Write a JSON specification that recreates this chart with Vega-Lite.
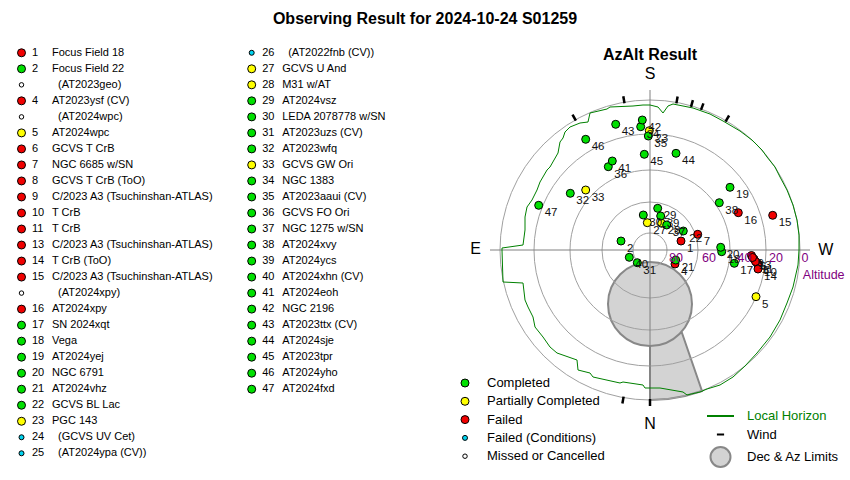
{
  "$schema": "https://vega.github.io/schema/vega-lite/v6.json",
  "padding": {"left": 0, "top": 11, "right": 0, "bottom": 0},
  "bounds": "flush",
  "spacing": 0,
  "title": {"text": "Observing Result for 2024-10-24 S01259", "fontSize": 16, "fontWeight": "bold", "offset": 3, "anchor": "middle", "color": "black", "font": "Liberation Sans"},
  "config": {"view": {"stroke": null}, "font": "Liberation Sans"},
  "datasets": {
    "list": [
      {"col": 0, "row": 0, "num": "1", "name": "Focus Field 18", "status": "Failed"},
      {"col": 0, "row": 1, "num": "2", "name": "Focus Field 22", "status": "Completed"},
      {"col": 0, "row": 2, "num": "", "name": "(AT2023geo)", "status": "Missed or Cancelled"},
      {"col": 0, "row": 3, "num": "4", "name": "AT2023ysf (CV)", "status": "Failed"},
      {"col": 0, "row": 4, "num": "", "name": "(AT2024wpc)", "status": "Missed or Cancelled"},
      {"col": 0, "row": 5, "num": "5", "name": "AT2024wpc", "status": "Partially Completed"},
      {"col": 0, "row": 6, "num": "6", "name": "GCVS T CrB", "status": "Failed"},
      {"col": 0, "row": 7, "num": "7", "name": "NGC 6685 w/SN", "status": "Failed"},
      {"col": 0, "row": 8, "num": "8", "name": "GCVS T CrB (ToO)", "status": "Failed"},
      {"col": 0, "row": 9, "num": "9", "name": "C/2023 A3 (Tsuchinshan-ATLAS)", "status": "Failed"},
      {"col": 0, "row": 10, "num": "10", "name": "T CrB", "status": "Failed"},
      {"col": 0, "row": 11, "num": "11", "name": "T CrB", "status": "Failed"},
      {"col": 0, "row": 12, "num": "13", "name": "C/2023 A3 (Tsuchinshan-ATLAS)", "status": "Failed"},
      {"col": 0, "row": 13, "num": "14", "name": "T CrB (ToO)", "status": "Failed"},
      {"col": 0, "row": 14, "num": "15", "name": "C/2023 A3 (Tsuchinshan-ATLAS)", "status": "Failed"},
      {"col": 0, "row": 15, "num": "", "name": "(AT2024xpy)", "status": "Missed or Cancelled"},
      {"col": 0, "row": 16, "num": "16", "name": "AT2024xpy", "status": "Failed"},
      {"col": 0, "row": 17, "num": "17", "name": "SN 2024xqt", "status": "Completed"},
      {"col": 0, "row": 18, "num": "18", "name": "Vega", "status": "Completed"},
      {"col": 0, "row": 19, "num": "19", "name": "AT2024yej", "status": "Completed"},
      {"col": 0, "row": 20, "num": "20", "name": "NGC 6791", "status": "Completed"},
      {"col": 0, "row": 21, "num": "21", "name": "AT2024vhz", "status": "Completed"},
      {"col": 0, "row": 22, "num": "22", "name": "GCVS BL Lac", "status": "Completed"},
      {"col": 0, "row": 23, "num": "23", "name": "PGC 143", "status": "Partially Completed"},
      {"col": 0, "row": 24, "num": "24", "name": "(GCVS UV Cet)", "status": "Failed (Conditions)"},
      {"col": 0, "row": 25, "num": "25", "name": "(AT2024ypa (CV))", "status": "Failed (Conditions)"},
      {"col": 1, "row": 0, "num": "26", "name": "(AT2022fnb (CV))", "status": "Failed (Conditions)"},
      {"col": 1, "row": 1, "num": "27", "name": "GCVS U And", "status": "Partially Completed"},
      {"col": 1, "row": 2, "num": "28", "name": "M31 w/AT", "status": "Partially Completed"},
      {"col": 1, "row": 3, "num": "29", "name": "AT2024vsz", "status": "Completed"},
      {"col": 1, "row": 4, "num": "30", "name": "LEDA 2078778 w/SN", "status": "Completed"},
      {"col": 1, "row": 5, "num": "31", "name": "AT2023uzs (CV)", "status": "Completed"},
      {"col": 1, "row": 6, "num": "32", "name": "AT2023wfq", "status": "Completed"},
      {"col": 1, "row": 7, "num": "33", "name": "GCVS GW Ori", "status": "Partially Completed"},
      {"col": 1, "row": 8, "num": "34", "name": "NGC 1383", "status": "Completed"},
      {"col": 1, "row": 9, "num": "35", "name": "AT2023aaui (CV)", "status": "Completed"},
      {"col": 1, "row": 10, "num": "36", "name": "GCVS FO Ori", "status": "Completed"},
      {"col": 1, "row": 11, "num": "37", "name": "NGC 1275 w/SN", "status": "Completed"},
      {"col": 1, "row": 12, "num": "38", "name": "AT2024xvy", "status": "Completed"},
      {"col": 1, "row": 13, "num": "39", "name": "AT2024ycs", "status": "Completed"},
      {"col": 1, "row": 14, "num": "40", "name": "AT2024xhn (CV)", "status": "Completed"},
      {"col": 1, "row": 15, "num": "41", "name": "AT2024eoh", "status": "Completed"},
      {"col": 1, "row": 16, "num": "42", "name": "NGC 2196", "status": "Completed"},
      {"col": 1, "row": 17, "num": "43", "name": "AT2023ttx (CV)", "status": "Completed"},
      {"col": 1, "row": 18, "num": "44", "name": "AT2024sje", "status": "Completed"},
      {"col": 1, "row": 19, "num": "45", "name": "AT2023tpr", "status": "Completed"},
      {"col": 1, "row": 20, "num": "46", "name": "AT2024yho", "status": "Completed"},
      {"col": 1, "row": 21, "num": "47", "name": "AT2024fxd", "status": "Completed"}
    ],
    "points": [
      {"id": "1", "x": 31, "y": 9, "status": "Failed"},
      {"id": "2", "x": -29, "y": 9, "status": "Completed"},
      {"id": "4", "x": 25, "y": -14, "status": "Failed"},
      {"id": "5", "x": 106, "y": -46.7, "status": "Partially Completed"},
      {"id": "6", "x": 104, "y": -9, "status": "Failed"},
      {"id": "7", "x": 47.7, "y": 15.7, "status": "Failed"},
      {"id": "8", "x": 107, "y": -13, "status": "Failed"},
      {"id": "9", "x": 101.5, "y": -5.5, "status": "Failed"},
      {"id": "10", "x": 108, "y": -14.5, "status": "Failed"},
      {"id": "11", "x": 105.5, "y": -11.5, "status": "Failed"},
      {"id": "13", "x": 102.5, "y": -7.5, "status": "Failed"},
      {"id": "14", "x": 108, "y": -19, "status": "Failed"},
      {"id": "15", "x": 122.7, "y": 34.7, "status": "Failed"},
      {"id": "16", "x": 88.3, "y": 37.3, "status": "Failed"},
      {"id": "17", "x": 84.3, "y": -13.3, "status": "Completed"},
      {"id": "18", "x": 71.7, "y": -1.7, "status": "Completed"},
      {"id": "19", "x": 80, "y": 62.7, "status": "Completed"},
      {"id": "20", "x": 70.7, "y": 2.7, "status": "Completed"},
      {"id": "21", "x": 25.7, "y": -10, "status": "Completed"},
      {"id": "22", "x": 33.3, "y": 19, "status": "Completed"},
      {"id": "23", "x": -0.7, "y": 119.3, "status": "Partially Completed"},
      {"id": "27", "x": -2.7, "y": 27.3, "status": "Partially Completed"},
      {"id": "28", "x": 11.7, "y": 26.7, "status": "Partially Completed"},
      {"id": "29", "x": 7.7, "y": 41.7, "status": "Completed"},
      {"id": "30", "x": -6.7, "y": 35, "status": "Completed"},
      {"id": "31", "x": -12.7, "y": -12.7, "status": "Completed"},
      {"id": "32", "x": -79.7, "y": 56.7, "status": "Completed"},
      {"id": "33", "x": -64.3, "y": 60, "status": "Partially Completed"},
      {"id": "34", "x": -9.3, "y": 123.3, "status": "Completed"},
      {"id": "35", "x": -1.7, "y": 114, "status": "Completed"},
      {"id": "36", "x": -41.7, "y": 83.3, "status": "Completed"},
      {"id": "37", "x": 16.7, "y": 25, "status": "Completed"},
      {"id": "38", "x": 69.3, "y": 47.3, "status": "Completed"},
      {"id": "39", "x": 10.7, "y": 34, "status": "Completed"},
      {"id": "40", "x": -20.7, "y": -7.3, "status": "Completed"},
      {"id": "41", "x": -37.7, "y": 89, "status": "Completed"},
      {"id": "42", "x": -7.7, "y": 130, "status": "Completed"},
      {"id": "43", "x": -34.3, "y": 125.7, "status": "Completed"},
      {"id": "44", "x": 26, "y": 96.7, "status": "Completed"},
      {"id": "45", "x": -5.7, "y": 95.7, "status": "Completed"},
      {"id": "46", "x": -64.3, "y": 110.7, "status": "Completed"},
      {"id": "47", "x": -111.3, "y": 44.7, "status": "Completed"}
    ],
    "horizon": [
      {"o": 0, "x": -148, "y": 0}, {"o": 1, "x": -148, "y": 2}, {"o": 2, "x": -127, "y": 5},
      {"o": 3, "x": -125, "y": 20}, {"o": 4, "x": -125, "y": 33}, {"o": 5, "x": -123, "y": 43},
      {"o": 6, "x": -118, "y": 50}, {"o": 7, "x": -113, "y": 60}, {"o": 8, "x": -110, "y": 68},
      {"o": 9, "x": -103, "y": 80}, {"o": 10, "x": -100, "y": 83}, {"o": 11, "x": -92, "y": 97},
      {"o": 12, "x": -90, "y": 108}, {"o": 13, "x": -87, "y": 112}, {"o": 14, "x": -85, "y": 118},
      {"o": 15, "x": -80, "y": 123}, {"o": 16, "x": -70, "y": 127}, {"o": 17, "x": -62, "y": 128},
      {"o": 18, "x": -60, "y": 137}, {"o": 19, "x": -43, "y": 141}, {"o": 20, "x": -40, "y": 143},
      {"o": 21, "x": -17, "y": 144}, {"o": 22, "x": -7, "y": 145}, {"o": 23, "x": 0, "y": 145},
      {"o": 24, "x": 8, "y": 143}, {"o": 25, "x": 13, "y": 137}, {"o": 26, "x": 18, "y": 144},
      {"o": 27, "x": 23, "y": 146}, {"o": 28, "x": 43, "y": 142}, {"o": 29, "x": 60, "y": 136},
      {"o": 30, "x": 73, "y": 129}, {"o": 31, "x": 90, "y": 119}, {"o": 32, "x": 102, "y": 110},
      {"o": 33, "x": 112, "y": 100}, {"o": 34, "x": 117, "y": 93}, {"o": 35, "x": 125, "y": 83},
      {"o": 36, "x": 130, "y": 73}, {"o": 37, "x": 137, "y": 60}, {"o": 38, "x": 143, "y": 45},
      {"o": 39, "x": 147, "y": 30}, {"o": 40, "x": 149, "y": 15}, {"o": 41, "x": 149, "y": 0},
      {"o": 42, "x": 148, "y": -15}, {"o": 43, "x": 143, "y": -37}, {"o": 44, "x": 137, "y": -53},
      {"o": 45, "x": 130, "y": -70}, {"o": 46, "x": 120, "y": -87}, {"o": 47, "x": 107, "y": -103},
      {"o": 48, "x": 95, "y": -116}, {"o": 49, "x": 83, "y": -127}, {"o": 50, "x": 70, "y": -135},
      {"o": 51, "x": 57, "y": -139}, {"o": 52, "x": 50, "y": -142}, {"o": 53, "x": 37, "y": -145},
      {"o": 54, "x": 33, "y": -142}, {"o": 55, "x": 10, "y": -138}, {"o": 56, "x": 0, "y": -138},
      {"o": 57, "x": -5, "y": -138}, {"o": 58, "x": -7, "y": -135}, {"o": 59, "x": -27, "y": -132},
      {"o": 60, "x": -30, "y": -133}, {"o": 61, "x": -57, "y": -127}, {"o": 62, "x": -60, "y": -123},
      {"o": 63, "x": -72, "y": -120}, {"o": 64, "x": -73, "y": -110}, {"o": 65, "x": -93, "y": -103},
      {"o": 66, "x": -100, "y": -97}, {"o": 67, "x": -107, "y": -87}, {"o": 68, "x": -115, "y": -77},
      {"o": 69, "x": -117, "y": -67}, {"o": 70, "x": -122, "y": -57}, {"o": 71, "x": -125, "y": -50},
      {"o": 72, "x": -127, "y": -33}, {"o": 73, "x": -147, "y": -32}, {"o": 74, "x": -148, "y": 0}
    ],
    "rings": [
      {"x": 0, "y": 0, "alt": 0}, {"x": 0, "y": 0, "alt": 20}, {"x": 0, "y": 0, "alt": 40},
      {"x": 0, "y": 0, "alt": 60}, {"x": 0, "y": 0, "alt": 80}
    ],
    "crosshair": [
      {"x": -160, "y": 0, "x2": 160, "y2": 0},
      {"x": 0, "y": 160, "x2": 0, "y2": -155}
    ],
    "wind": [
      {"x": -74.1, "y": 129.3, "x2": -77.5, "y2": 135.4},
      {"x": -25.5, "y": 146.8, "x2": -26.7, "y2": 153.7},
      {"x": 26.4, "y": 146.6, "x2": 27.6, "y2": 153.5},
      {"x": 41, "y": 143.2, "x2": 42.9, "y2": 149.9},
      {"x": 51, "y": 140.1, "x2": 53.4, "y2": 146.6},
      {"x": 75.5, "y": 128.4, "x2": 79.1, "y2": 134.5},
      {"x": -26.4, "y": -146.6, "x2": -27.6, "y2": -153.5},
      {"x": 0, "y": -149, "x2": 0, "y2": -156}
    ],
    "wedge": [
      {"x": 32, "y": -83}, {"x": 52, "y": -141}, {"x": 35, "y": -146}, {"x": 18, "y": -149}, {"x": 0, "y": -150}
    ],
    "limits": [{"x": 0, "y": -54}],
    "ringLabels": [
      {"x": 26, "y": -7.5, "t": "80"}, {"x": 59, "y": -7.5, "t": "60"}, {"x": 94.5, "y": -7.5, "t": "40"},
      {"x": 126, "y": -7.5, "t": "20"}, {"x": 155, "y": -7.5, "t": "0"}, {"x": 173.7, "y": -24.5, "t": "Altitude"}
    ],
    "cardinals": [
      {"x": 0, "y": 176, "t": "S"}, {"x": 0, "y": -174.3, "t": "N"},
      {"x": -174.3, "y": 0.7, "t": "E"}, {"x": 175.7, "y": 0, "t": "W"}
    ]
  },
  "hconcat": [
    {
      "width": 460,
      "height": 450,
      "data": {"name": "list"},
      "encoding": {
        "x": {"field": "col", "type": "quantitative", "scale": {"domain": [-0.0934, 1.9049]}, "axis": null},
        "y": {"field": "row", "type": "quantitative", "scale": {"domain": [-1.423, 26.667], "reverse": true}, "axis": null}
      },
      "layer": [
        {
          "mark": {"type": "point", "filled": true, "stroke": "black", "strokeWidth": 1, "opacity": 1},
          "encoding": {
            "fill": {
              "field": "status", "type": "nominal",
              "scale": {"domain": ["Completed", "Partially Completed", "Failed", "Failed (Conditions)", "Missed or Cancelled"], "range": ["#00e000", "#ffff00", "#f00000", "#00d4f0", "#ffffff"]},
              "legend": {"orient": "none", "legendX": 458.5, "legendY": 346.5, "title": null, "padding": 0, "labelFontSize": 13, "labelOffset": 15.5, "rowPadding": 4.3, "symbolStrokeColor": "black", "symbolStrokeWidth": 1, "symbolSize": {"expr": "datum.value == 'Failed (Conditions)' ? 25 : datum.value == 'Missed or Cancelled' ? 20 : 64"}, "labelColor": "black", "labelFont": "Liberation Sans"}
            },
            "size": {"condition": [{"test": "datum.status == 'Failed (Conditions)'", "value": 25}, {"test": "datum.status == 'Missed or Cancelled'", "value": 20}], "value": 64}
          }
        },
        {
          "mark": {"type": "text", "align": "left", "baseline": "middle", "dx": 10.5, "fontSize": 11, "color": "black"},
          "encoding": {"text": {"field": "num"}}
        },
        {
          "transform": [{"filter": "datum.status != 'Missed or Cancelled' && datum.status != 'Failed (Conditions)'"}],
          "mark": {"type": "text", "align": "left", "baseline": "middle", "dx": 30.5, "fontSize": 11, "color": "black"},
          "encoding": {"text": {"field": "name"}}
        },
        {
          "transform": [{"filter": "datum.status == 'Missed or Cancelled' || datum.status == 'Failed (Conditions)'"}],
          "mark": {"type": "text", "align": "left", "baseline": "middle", "dx": 36.5, "fontSize": 11, "color": "black"},
          "encoding": {"text": {"field": "name"}}
        }
      ]
    },
    {
      "width": 390,
      "height": 450,
      "title": {"text": "AzAlt Result", "fontSize": 16, "fontWeight": "bold", "offset": -33, "dx": -5, "anchor": "middle", "color": "black"},
      "encoding": {
        "x": {"field": "x", "type": "quantitative", "scale": {"domain": [-190, 200]}, "axis": null},
        "y": {"field": "y", "type": "quantitative", "scale": {"domain": [-230, 220]}, "axis": null}
      },
      "layer": [
        {
          "data": {"name": "wedge"},
          "mark": {"type": "area", "orient": "horizontal", "fill": "#d3d3d3", "stroke": "#888888", "strokeWidth": 2},
          "encoding": {"x2": {"datum": 0}}
        },
        {
          "data": {"name": "limits"},
          "mark": {"type": "point", "shape": "circle", "filled": true, "fill": "#d3d3d3", "size": 7056, "strokeWidth": 2, "opacity": 1},
          "encoding": {
            "stroke": {
              "datum": "Dec & Az Limits", "type": "nominal",
              "scale": {"domain": ["Local Horizon", "Wind", "Dec & Az Limits"], "range": ["#008000", "#000000", "#888888"]},
              "legend": {"orient": "none", "legendX": 710.5, "legendY": 376, "title": null, "padding": 0, "labelFontSize": 13, "labelOffset": 16.5, "rowPadding": 1.5, "symbolSize": 324, "symbolStrokeWidth": 2, "symbolFillColor": "#d3d3d3",
                "symbolType": {"expr": "datum.value == 'Local Horizon' ? 'M-1.5,0H1.5' : datum.value == 'Wind' ? 'M-0.4,0H0.4' : 'M1.111,0A1.111,1.111,0,1,1,-1.111,0A1.111,1.111,0,1,1,1.111,0Z'"},
                "labelColor": {"expr": "datum.value == 'Local Horizon' ? '#008000' : 'black'"}, "labelFont": "Liberation Sans"}
            }
          }
        },
        {
          "data": {"name": "rings"},
          "mark": {"type": "point", "shape": "circle", "filled": false, "stroke": "#a0a0a0", "strokeWidth": 1, "opacity": 1},
          "encoding": {
            "size": {"field": "alt", "type": "quantitative", "scale": {"domain": [0, 20, 40, 60, 80], "range": [90000, 53824, 25600, 9216, 1156]}, "legend": null}
          }
        },
        {
          "data": {"name": "crosshair"},
          "mark": {"type": "rule", "stroke": "#808080", "strokeWidth": 1},
          "encoding": {"x2": {"field": "x2"}, "y2": {"field": "y2"}}
        },
        {
          "data": {"name": "horizon"},
          "mark": {"type": "line", "strokeWidth": 1},
          "encoding": {
            "order": {"field": "o", "type": "quantitative"},
            "stroke": {"datum": "Local Horizon", "type": "nominal"}
          }
        },
        {
          "data": {"name": "wind"},
          "mark": {"type": "rule", "strokeWidth": 2.5},
          "encoding": {
            "x2": {"field": "x2"}, "y2": {"field": "y2"},
            "stroke": {"datum": "Wind", "type": "nominal"}
          }
        },
        {
          "data": {"name": "points"},
          "mark": {"type": "point", "shape": "circle", "filled": true, "stroke": "black", "strokeWidth": 1, "size": 64, "opacity": 1},
          "encoding": {
            "fill": {
              "field": "status", "type": "nominal",
              "scale": {"domain": ["Completed", "Partially Completed", "Failed", "Failed (Conditions)", "Missed or Cancelled"], "range": ["#00e000", "#ffff00", "#f00000", "#00d4f0", "#ffffff"]}
            }
          }
        },
        {
          "data": {"name": "points"},
          "mark": {"type": "text", "align": "left", "baseline": "middle", "dx": 6, "dy": 8, "fontSize": 11.5, "color": "#111111"},
          "encoding": {"text": {"field": "id"}}
        },
        {
          "data": {"name": "ringLabels"},
          "mark": {"type": "text", "align": "center", "baseline": "middle", "fontSize": 12.5, "color": "#800080"},
          "encoding": {"text": {"field": "t"}}
        },
        {
          "data": {"name": "cardinals"},
          "mark": {"type": "text", "align": "center", "baseline": "middle", "fontSize": 16, "color": "black"},
          "encoding": {"text": {"field": "t"}}
        }
      ]
    }
  ]
}
